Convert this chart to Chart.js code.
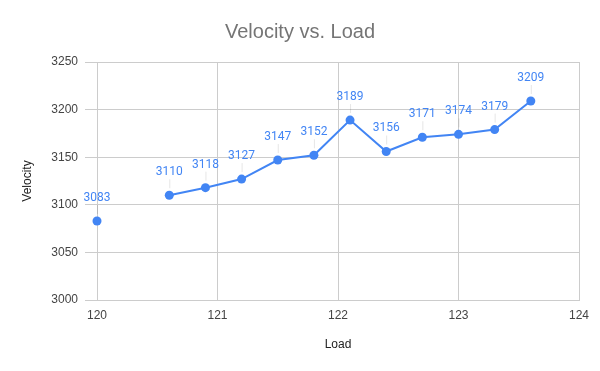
<!DOCTYPE html>
<html>
<head>
<meta charset="utf-8">
<script src="https://cdn.jsdelivr.net/npm/chart.js@4/dist/chart.umd.min.js"></script>
<style>
  html, body { margin: 0; padding: 0; background: #fff; }
  #wrap { width: 600px; height: 371px; }
</style>
</head>
<body>
<div id="wrap"><canvas id="myChart"></canvas></div>
<script>
// Load values (x) and measured velocity (y); 120.3 has no reading, hence the gap
const loads = [120, 120.3, 120.6, 120.9, 121.2, 121.5, 121.8, 122.1, 122.4, 122.7, 123, 123.3, 123.6];
const velocities = [3083, null, 3110, 3118, 3127, 3147, 3152, 3189, 3156, 3171, 3174, 3179, 3209];
const xTicks = [120, 121, 122, 123, 124];
const yTicks = [3000, 3050, 3100, 3150, 3200, 3250];

const blue = '#4285F4';
const gridColor = '#cccccc';

// value labels above each point with a faint leader line
const pointLabels = {
  id: 'pointLabels',
  afterDatasetsDraw(chart) {
    const ctx = chart.ctx;
    const meta = chart.getDatasetMeta(0);
    ctx.save();
    meta.data.forEach(function(pt, i) {
      const v = velocities[i];
      if (v === null || pt.skip) return;
      ctx.strokeStyle = 'rgba(0,0,0,0.1)';
      ctx.lineWidth = 1;
      ctx.beginPath();
      ctx.moveTo(pt.x + 0.5, pt.y - 7);
      ctx.lineTo(pt.x + 0.5, pt.y - 16);
      ctx.stroke();
      ctx.fillStyle = blue;
      ctx.font = '12px Roboto';
      ctx.textAlign = 'center';
      ctx.textBaseline = 'middle';
      ctx.fillText(String(v), pt.x, pt.y - 23);
    });
    ctx.restore();
  }
};

const ctx = document.getElementById('myChart').getContext('2d');
const myChart = new Chart(ctx, {
  type: 'line',
  data: {
    datasets: [{
      label: 'Velocity',
      data: loads.map((x, i) => ({ x: x, y: velocities[i] })),
      borderColor: blue,
      backgroundColor: blue,
      borderWidth: 2,
      pointRadius: 4.5,
      pointHoverRadius: 4.5,
      pointBorderWidth: 0,
      spanGaps: false,
      tension: 0,
      clip: false
    }]
  },
  plugins: [pointLabels],
  options: {
    responsive: true,
    maintainAspectRatio: false,
    animation: false,
    layout: { padding: 0 },
    plugins: {
      legend: { display: false },
      tooltip: { enabled: false },
      title: {
        display: true,
        text: 'Velocity vs. Load',
        color: '#757575',
        font: { family: 'Liberation Sans', size: 20, weight: 'normal' },
        padding: { top: 20, bottom: 18 }
      }
    },
    scales: {
      x: {
        type: 'linear',
        min: 120,
        max: 124,
        afterBuildTicks: function(axis) { axis.ticks = xTicks.map(v => ({ value: v })); },
        afterFit: function(axis) {
          axis.height = 71;
          axis.paddingRight = 21;
          axis.paddingLeft = 0;
        },
        grid: { color: gridColor, drawTicks: false },
        border: { color: gridColor },
        ticks: {
          color: '#444',
          padding: 8,
          font: { family: 'Liberation Sans', size: 12 }
        },
        title: {
          display: true,
          text: 'Load',
          color: '#222',
          font: { family: 'Liberation Sans', size: 12 },
          padding: { top: 0, bottom: 19 }
        }
      },
      y: {
        min: 3000,
        max: 3250,
        afterBuildTicks: function(axis) { axis.ticks = yTicks.map(v => ({ value: v })); },
        afterFit: function(axis) { axis.width = 97; },
        grid: { color: gridColor, tickLength: 12 },
        border: { color: gridColor },
        ticks: {
          color: '#444',
          padding: 7,
          font: { family: 'Liberation Sans', size: 12 },
          callback: function(v) { return String(v); }
        },
        title: {
          display: true,
          text: 'Velocity',
          color: '#222',
          font: { family: 'Liberation Sans', size: 12 },
          padding: { top: 20, bottom: 0 }
        }
      }
    }
  }
});
</script>
</body>
</html>
